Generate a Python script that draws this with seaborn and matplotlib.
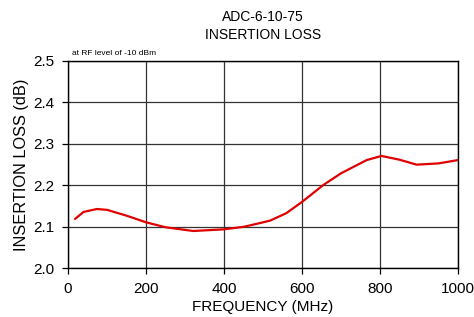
import pandas as pd
import matplotlib
matplotlib.use("Agg")
import matplotlib.pyplot as plt
import seaborn as sns

freq = [18, 40, 74, 100, 150, 200, 250, 321, 400, 450, 492, 518, 544, 560,
        600, 655, 700, 766, 804, 850, 894, 950, 1000]
loss = [2.119, 2.136, 2.143, 2.141, 2.127, 2.111, 2.099, 2.090, 2.094, 2.100,
        2.109, 2.115, 2.126, 2.133, 2.160, 2.201, 2.229, 2.261, 2.271, 2.262,
        2.250, 2.253, 2.261]

df = pd.DataFrame({"freq": freq, "loss": loss})

sns.set_style("white", {"text.color": "black", "axes.labelcolor": "black",
                        "xtick.color": "black", "ytick.color": "black"})
plt.rcParams['font.family'] = ['Liberation Sans', 'DejaVu Sans']

fig = plt.figure(figsize=(4.74, 3.17), dpi=100)
ax = fig.add_axes([0.1435, 0.1536, 0.8225, 0.654])

sns.lineplot(data=df, x="freq", y="loss", color="#e00000", linewidth=1.6, ax=ax)

ax.set_xlim(0, 1000)
ax.set_ylim(2.0, 2.5)
ax.set_xticks([0, 200, 400, 600, 800, 1000])
ax.set_yticks([2.0, 2.1, 2.2, 2.3, 2.4, 2.5])
ax.set_yticklabels(["2.0", "2.1", "2.2", "2.3", "2.4", "2.5"])
ax.grid(True, color="#333333", linewidth=0.9)
for s in ax.spines.values():
    s.set_color("black")
    s.set_linewidth(1.0)
ax.tick_params(axis="both", labelsize=11, length=4, width=0.9, color="black",
               labelcolor="black", direction="out", left=True, bottom=True)
ax.tick_params(axis="x", pad=6)
ax.tick_params(axis="y", pad=6)

ax.set_xlabel("FREQUENCY (MHz)", fontsize=11, labelpad=3, color="black")
ax.set_ylabel("INSERTION LOSS (dB)", fontsize=11.8, labelpad=3, color="black")
ax.set_title("ADC-6-10-75\nINSERTION LOSS", fontsize=10, pad=16, linespacing=1.3,
             color="black")
ax.text(0.01, 1.02, "at RF level of -10 dBm", transform=ax.transAxes,
        fontsize=6, va="bottom", ha="left", color="black")

fig.savefig("out.png", dpi=100)
